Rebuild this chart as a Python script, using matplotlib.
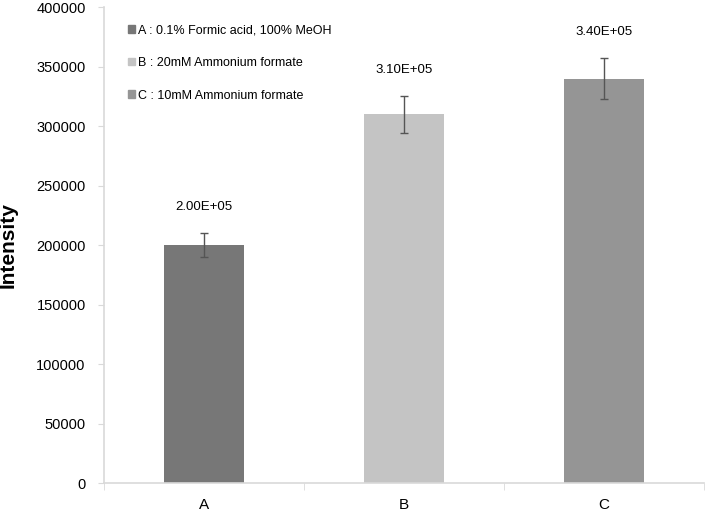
import numpy as np
import matplotlib.pyplot as plt
from matplotlib.patches import Patch

plt.rcParams['font.family'] = ['Liberation Sans', 'DejaVu Sans']

# data
categories = ['A', 'B', 'C']
values = [200000, 310000, 340000]
errors = [10000, 15500, 17500]
value_labels = ['2.00E+05', '3.10E+05', '3.40E+05']
legend_labels = ['A : 0.1% Formic acid, 100% MeOH',
                 'B : 20mM Ammonium formate',
                 'C : 10mM Ammonium formate']
colors = ['#777777', '#c4c4c4', '#959595']

fig = plt.figure(figsize=(7.06, 5.15), dpi=100)
ax = fig.add_axes([0.147, 0.062, 0.850, 0.924])

x = np.arange(len(categories))
ax.bar(x, values, width=0.4, color=colors, zorder=2)
ax.errorbar(x, values, yerr=errors, fmt='none', ecolor='#555555',
            elinewidth=1, capsize=3, capthick=1, zorder=3)

# value labels sit a little above the error bar caps
for xi, v, e, lab in zip(x, values, errors, value_labels):
    ax.text(xi, v + e + 22000, lab, ha='center', va='center', fontsize=9.5)

ax.set_xlim(-0.5, 2.5)
ax.set_ylim(0, 400000)
ax.set_yticks(np.arange(0, 400001, 50000))
ax.set_yticklabels([str(t) for t in range(0, 400001, 50000)], fontsize=10.5)
ax.set_xticks(x)
ax.set_xticklabels(categories, fontsize=11)
ax.set_xticks([-0.5, 0.5, 1.5, 2.5], minor=True)
ax.tick_params(axis='x', which='major', length=0, pad=11)
ax.tick_params(axis='x', which='minor', length=5, color='#d9d9d9', direction='out')
ax.tick_params(axis='y', length=4, color='#d9d9d9', pad=9)

for side in ['top', 'right']:
    ax.spines[side].set_visible(False)
for side in ['left', 'bottom']:
    ax.spines[side].set_color('#d9d9d9')
    ax.spines[side].set_linewidth(1.2)

ax.set_ylabel('Intensity', fontsize=15, fontweight='bold')
ax.yaxis.set_label_coords(-0.143, 0.5)

handles = [Patch(color=c) for c in colors]
ax.legend(handles, legend_labels, loc='upper left', bbox_to_anchor=(0.040, 0.964),
          frameon=False, fontsize=9, handlelength=0.55, handleheight=0.55,
          handletextpad=0.3, labelspacing=1.65, borderaxespad=0, borderpad=0)

fig.savefig('out.png', dpi=100)
